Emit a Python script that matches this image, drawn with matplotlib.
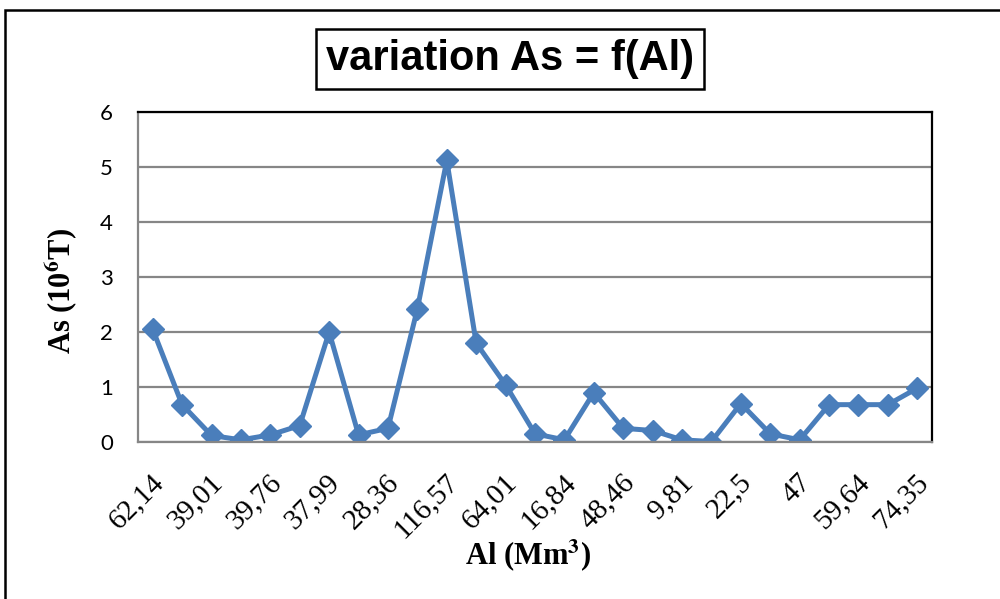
import matplotlib.pyplot as plt
from matplotlib.patches import Rectangle
from matplotlib.transforms import ScaledTranslation

plt.rcParams["mathtext.fontset"] = "stix"

# Al values shown on the category axis (every second sample is labelled)
al_labels = ["62,14", "39,01", "39,76", "37,99", "28,36", "116,57", "64,01",
             "16,84", "48,46", "9,81", "22,5", "47", "59,64", "74,35"]

# As (10^6 T) per sample
as_values = [2.05, 0.68, 0.12, 0.04, 0.13, 0.30, 2.00, 0.13, 0.25, 2.42,
             5.12, 1.80, 1.04, 0.15, 0.04, 0.90, 0.25, 0.21, 0.04, 0.01,
             0.70, 0.15, 0.04, 0.68, 0.68, 0.68, 0.98]

blue = "#4A7EBB"
grey = "#868686"

fig = plt.figure(figsize=(10, 5.99), dpi=100)
ax = fig.add_axes([0.138, 0.262, 0.794, 0.551])

x = list(range(len(as_values)))
ax.plot(x, as_values, color=blue, lw=3.6, marker="D", ms=11,
        markerfacecolor=blue, markeredgecolor=blue, solid_joinstyle="miter")

ax.set_xlim(-0.5, len(as_values) - 0.5)
ax.set_ylim(0, 6)
ax.set_yticks(range(0, 7))
ax.yaxis.grid(True, color=grey, lw=1.6)
ax.set_axisbelow(True)

ax.set_xticks(range(0, len(as_values), 2))
ax.set_xticklabels(al_labels, rotation=45, ha="right", va="center",
                   rotation_mode="anchor", family=["Liberation Serif"], fontsize=21)
ax.tick_params(axis="x", length=0, pad=26)
shift = ScaledTranslation(5 / 72, 0, fig.dpi_scale_trans)
for lbl in ax.get_xticklabels():
    lbl.set_transform(lbl.get_transform() + shift)
ax.tick_params(axis="y", length=0, pad=18, labelsize=16)
for lbl in ax.get_yticklabels():
    lbl.set_family(["Lato", "DejaVu Sans"])

for side in ("top", "right"):
    ax.spines[side].set_color("black")
    ax.spines[side].set_linewidth(1.6)
for side in ("left", "bottom"):
    ax.spines[side].set_color(grey)
    ax.spines[side].set_linewidth(1.6)

# axis titles
fig.text(0.060, 0.514, r"As (10$^{\mathbf{6}}$T)", rotation=90, ha="center", va="center",
         fontsize=22, fontweight="bold", family=["Liberation Serif"])
fig.text(0.528, 0.072, r"Al (Mm$^{\mathbf{3}}$)", ha="center", va="center",
         fontsize=22, fontweight="bold", family=["Liberation Serif"])

# boxed chart title
fig.text(0.510, 0.902, "variation As = f(Al)", ha="center", va="center",
         fontsize=30, fontweight="bold",
         family=["Liberation Sans", "DejaVu Sans"],
         bbox=dict(boxstyle="square,pad=0.24", facecolor="white",
                   edgecolor="black", linewidth=1.8))

# outer chart frame
fig.patches.append(Rectangle((0.005, -0.05), 1.1, 1.033, transform=fig.transFigure,
                             fill=False, edgecolor="black", linewidth=1.8))

fig.savefig("out.png", dpi=100)
